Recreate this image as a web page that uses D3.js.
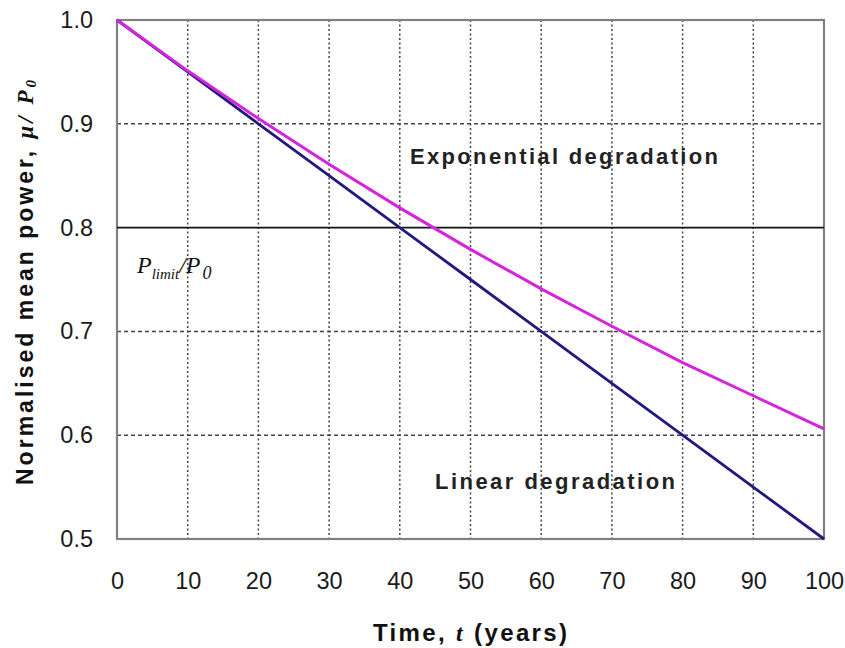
<!DOCTYPE html>
<html><head><meta charset="utf-8">
<script src="https://cdn.jsdelivr.net/npm/d3@7"></script>
<style>body{margin:0;background:#fff}svg{display:block}</style>
</head><body><svg id="c" width="845" height="648"></svg>
<script>
const years = [0,10,20,30,40,50,60,70,80,90,100];
const exponential = [1.0,0.951,0.905,0.861,0.819,0.779,0.741,0.705,0.670,0.638,0.606];
const linear = [1.0,0.95,0.90,0.85,0.80,0.75,0.70,0.65,0.60,0.55,0.50];
const xTicks = [0,10,20,30,40,50,60,70,80,90,100];
const yTicks = [0.5,0.6,0.7,0.8,0.9,1.0];
const limit = 0.8;

const svg = d3.select("#c");
const L=117,R=824,T=20,B=539;
const x = d3.scaleLinear().domain([0,100]).range([L,R]);
const y = d3.scaleLinear().domain([0.5,1.0]).range([B,T]);
const g = svg.append("g");

// grid
g.selectAll(".vg").data(xTicks.filter(d=>d>0&&d<100)).enter().append("line")
 .attr("x1",d=>x(d)).attr("x2",d=>x(d)).attr("y1",T).attr("y2",B)
 .attr("stroke","#444").attr("stroke-width",1.5).attr("stroke-dasharray","2,2.5");
g.selectAll(".hg").data(yTicks.filter(d=>d>0.5&&d<1.0&&d!==limit)).enter().append("line")
 .attr("x1",L).attr("x2",R).attr("y1",d=>y(d)).attr("y2",d=>y(d))
 .attr("stroke","#444").attr("stroke-width",1.5).attr("stroke-dasharray","4,3");

// frame
g.append("rect").attr("x",L).attr("y",T).attr("width",R-L).attr("height",B-T)
 .attr("fill","none").attr("stroke","#808080").attr("stroke-width",2.2);

const sans = "Arial, Liberation Sans, sans-serif";
// axes ticks
const xa = d3.axisBottom(x).tickValues(xTicks).tickSize(0).tickPadding(33).tickFormat(d3.format("d"));
const xg = g.append("g").attr("transform",`translate(0,${B})`).call(xa);
xg.select(".domain").remove();
xg.selectAll("text").attr("font-family",sans).attr("font-size",23.5).attr("fill","#1a1a1a");
const ya = d3.axisLeft(y).tickValues(yTicks).tickSize(0).tickPadding(24).tickFormat(d3.format(".1f"));
const yg = g.append("g").attr("transform",`translate(${L},0)`).call(ya);
yg.select(".domain").remove();
yg.selectAll("text").attr("font-family",sans).attr("font-size",23.5).attr("fill","#1a1a1a");

// limit line
g.append("line").attr("x1",L).attr("x2",R).attr("y1",y(limit)).attr("y2",y(limit))
 .attr("stroke","#111").attr("stroke-width",1.8);

// curves
const line = d3.line().x((d,i)=>x(years[i])).y(d=>y(d));
g.append("path").datum(linear).attr("d",line).attr("fill","none")
 .attr("stroke","#22197e").attr("stroke-width",2.8);
g.append("path").datum(exponential).attr("d",line).attr("fill","none")
 .attr("stroke","#d424dc").attr("stroke-width",3);

// annotations
g.append("text").attr("x",410).attr("y",164).attr("font-family",sans).attr("font-size",22)
 .attr("font-weight","bold").attr("fill","#222").attr("textLength",308).attr("lengthAdjust","spacing")
 .text("Exponential degradation");
g.append("text").attr("x",435).attr("y",489).attr("font-family",sans).attr("font-size",22)
 .attr("font-weight","bold").attr("fill","#222").attr("textLength",240).attr("lengthAdjust","spacing")
 .text("Linear degradation");

const pl = g.append("text").attr("x",137).attr("y",273).attr("font-family","Liberation Serif, Times New Roman, serif")
 .attr("font-style","italic").attr("font-size",24).attr("fill","#111");
pl.append("tspan").text("P");
pl.append("tspan").attr("font-size",15).attr("dy",6).text("limit");
pl.append("tspan").attr("dy",-6).text("/P");
pl.append("tspan").attr("font-size",18).attr("dy",6).attr("dx",2).text("0");

// axis titles
const xt = g.append("text").attr("x",373).attr("y",641).attr("font-family",sans).attr("font-size",24)
 .attr("font-weight","bold").attr("fill","#111").attr("textLength",194).attr("lengthAdjust","spacing");
xt.append("tspan").text("Time, ");
xt.append("tspan").attr("font-style","italic").attr("font-family","Liberation Serif, serif").text("t");
xt.append("tspan").text("  (years)");

const yt = g.append("text").attr("transform","translate(33,485) rotate(-90)")
 .attr("font-family",sans).attr("font-size",23).attr("font-weight","bold").attr("fill","#111")
 .attr("textLength",405).attr("lengthAdjust","spacing");
yt.append("tspan").text("Normalised mean power, ");
yt.append("tspan").attr("font-style","italic").attr("font-family","Liberation Serif, serif").text("μ/ P");
yt.append("tspan").attr("font-style","italic").attr("font-family","Liberation Serif, serif").attr("font-size",15).attr("dy",3).text("0");
</script></body></html>
